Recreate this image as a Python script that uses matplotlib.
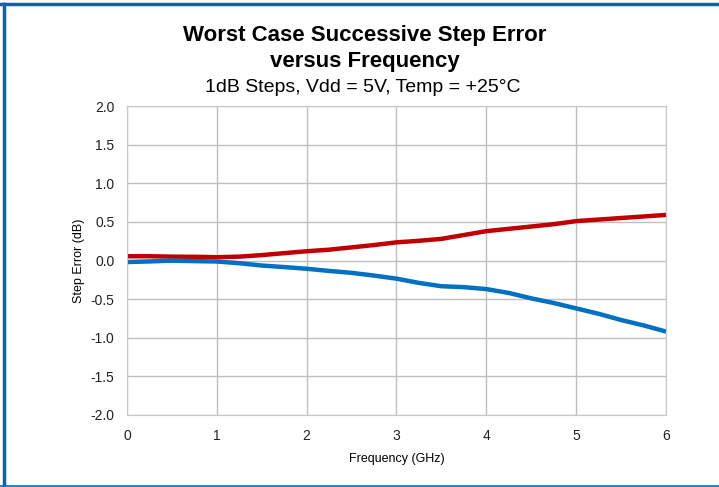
import matplotlib.pyplot as plt
from matplotlib.lines import Line2D

plt.rcParams['font.family'] = ['Liberation Sans', 'DejaVu Sans']

# frequency points (GHz)
freq = [0.0, 0.25, 0.5, 0.75, 1.0, 1.25, 1.5, 1.75, 2.0, 2.25, 2.5, 2.75,
        3.0, 3.25, 3.5, 3.75, 4.0, 4.25, 4.5, 4.75, 5.0, 5.25, 5.5, 5.75, 6.0]

# worst case positive step error (red)
err_pos = [0.055, 0.055, 0.05, 0.048, 0.043, 0.05, 0.07, 0.095, 0.12, 0.14, 0.17, 0.20,
           0.235, 0.255, 0.28, 0.33, 0.38, 0.41, 0.44, 0.47, 0.51, 0.53, 0.55, 0.57, 0.59]

# worst case negative step error (blue)
err_neg = [-0.02, -0.012, -0.002, -0.008, -0.013, -0.035, -0.065, -0.085, -0.107, -0.135, -0.16, -0.195,
           -0.235, -0.29, -0.333, -0.345, -0.37, -0.42, -0.49, -0.55, -0.62, -0.69, -0.77, -0.84, -0.92]

xticks = [0, 1, 2, 3, 4, 5, 6]
yticks = [-2.0, -1.5, -1.0, -0.5, 0.0, 0.5, 1.0, 1.5, 2.0]

fig = plt.figure(figsize=(7.19, 4.87), dpi=100)
ax = fig.add_axes([127/719, 1-415/487, (666-127)/719, (415-106)/487])

ax.plot(freq, err_pos, color='#C00000', lw=3.2, solid_capstyle='butt')
ax.plot(freq, err_neg, color='#0070C0', lw=3.2, solid_capstyle='butt')

ax.set_xlim(0, 6)
ax.set_ylim(-2.0, 2.0)
ax.set_xticks(xticks)
ax.set_yticks(yticks)
ax.set_yticklabels(['%.1f' % v for v in yticks])
ax.tick_params(length=0, labelsize=10, colors='#222222')
ax.tick_params(axis='x', pad=10)
ax.tick_params(axis='y', pad=9)
ax.grid(color='#BFBFBF', lw=1)
ax.set_axisbelow(True)
for s in ax.spines.values():
    s.set_color('#C8C8C8')

ax.set_xlabel('Frequency (GHz)', fontsize=9, labelpad=7)
ax.set_ylabel('Step Error (dB)', fontsize=9, labelpad=4)

fig.text(365/719, 1-36/487, 'Worst Case Successive Step Error', ha='center', va='center',
         fontsize=16, fontweight='bold')
fig.text(365/719, 1-61/487, 'versus Frequency', ha='center', va='center',
         fontsize=16, fontweight='bold')
fig.text(363/719, 1-87/487, '1dB Steps, Vdd = 5V, Temp = +25°C', ha='center', va='center',
         fontsize=14)

# blue frame
fig.add_artist(Line2D([0, 1], [1-4/487, 1-4/487], color='#0068AE', lw=2.5, transform=fig.transFigure))
fig.add_artist(Line2D([4/719, 4/719], [0, 1-4/487], color='#0068AE', lw=2.5, transform=fig.transFigure))
fig.add_artist(Line2D([0, 1], [1-486/487, 1-486/487], color='#0070C0', lw=1.2, transform=fig.transFigure))

fig.savefig('out.png', dpi=100)
